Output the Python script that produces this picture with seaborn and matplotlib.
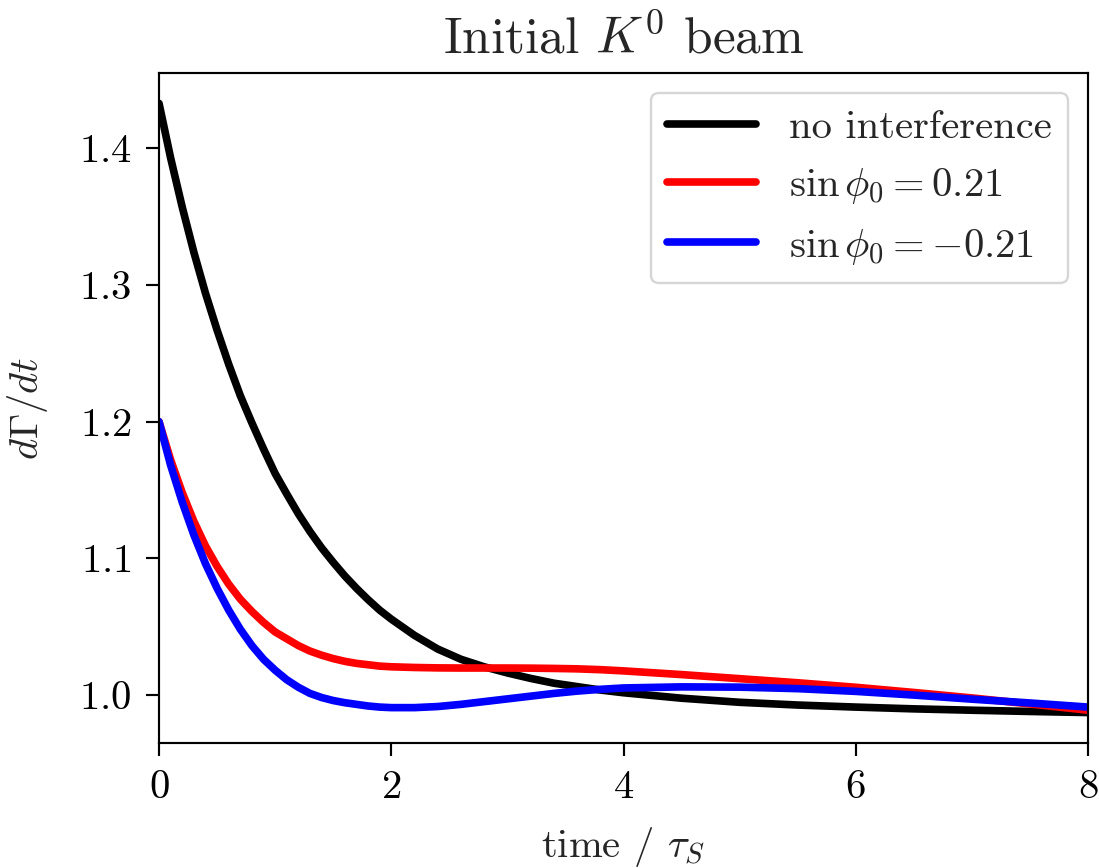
import pandas as pd
import matplotlib
matplotlib.use("Agg")
import matplotlib.pyplot as plt
import seaborn as sns

# time in units of tau_S
t = [0.0, 0.1, 0.2, 0.3, 0.4, 0.5, 0.6, 0.7, 0.8, 0.9, 1.0,
     1.1, 1.2, 1.3, 1.4, 1.5, 1.6, 1.7, 1.8, 1.9, 2.0,
     2.2, 2.4, 2.6, 2.8, 3.0, 3.2, 3.4, 3.6, 3.8, 4.0,
     4.5, 5.0, 5.5, 6.0, 6.5, 7.0, 7.5, 8.0]

# dGamma/dt
no_interf = [1.433, 1.393, 1.357, 1.324, 1.294, 1.267, 1.242, 1.219, 1.199, 1.180, 1.162,
             1.147, 1.1325, 1.1195, 1.1076, 1.097, 1.087, 1.078, 1.0697, 1.062, 1.0554,
             1.0435, 1.0335, 1.026, 1.0205, 1.016, 1.012, 1.0085, 1.006, 1.0035, 1.0015,
             0.9975, 0.9945, 0.9925, 0.991, 0.9897, 0.9887, 0.9878, 0.987]
sin_pos = [1.200, 1.172, 1.148, 1.127, 1.109, 1.094, 1.081, 1.070, 1.061, 1.053, 1.046,
           1.041, 1.036, 1.032, 1.029, 1.0265, 1.0245, 1.023, 1.022, 1.021, 1.0205,
           1.020, 1.0197, 1.0196, 1.0196, 1.0196, 1.0195, 1.0193, 1.019, 1.0184, 1.0175,
           1.0148, 1.0118, 1.0088, 1.0055, 1.0017, 0.9977, 0.9933, 0.9887]
sin_neg = [1.200, 1.168, 1.141, 1.117, 1.096, 1.078, 1.062, 1.048, 1.036, 1.026, 1.018,
           1.011, 1.0055, 1.001, 0.998, 0.9958, 0.9942, 0.993, 0.9918, 0.991, 0.9906,
           0.9906, 0.9914, 0.993, 0.995, 0.997, 0.999, 1.001, 1.0027, 1.004, 1.005,
           1.0058, 1.0056, 1.0045, 1.0025, 0.9998, 0.9968, 0.994, 0.991]

labels = ["no interference", r"$\sin\phi_0 = 0.21$", r"$\sin\phi_0 = -0.21$"]
colors = ["black", "red", "blue"]

df = pd.concat([
    pd.DataFrame({"t": t, "rate": no_interf, "case": labels[0]}),
    pd.DataFrame({"t": t, "rate": sin_pos, "case": labels[1]}),
    pd.DataFrame({"t": t, "rate": sin_neg, "case": labels[2]}),
])

sns.set_style("ticks")
plt.rcParams["font.family"] = "serif"
plt.rcParams["font.serif"] = ["cmr10"]
plt.rcParams["mathtext.fontset"] = "cm"
plt.rcParams["axes.formatter.use_mathtext"] = True

fs = 17
fig = plt.figure(figsize=(1099 / 172, 868 / 172), dpi=172)
ax = fig.add_axes([0.1447, 0.144, 0.8453, 0.772])

sns.lineplot(data=df, x="t", y="rate", hue="case", hue_order=labels,
             palette=dict(zip(labels, colors)), linewidth=3.2, ax=ax)

ax.set_xlim(0, 8)
ax.set_xticks([0, 2, 4, 6, 8])
ax.set_yticks([1.0, 1.1, 1.2, 1.3, 1.4])
ax.set_xlabel(r"time / $\tau_S$", fontsize=fs, labelpad=8)
ax.set_ylabel(r"$d\Gamma/dt$", fontsize=fs, labelpad=12)
ax.set_title(r"Initial $K^0$ beam", fontsize=21.5, pad=8)
for s in ax.spines.values():
    s.set_visible(True)
    s.set_linewidth(0.9)
    s.set_color("black")
ax.tick_params(direction="out", length=5.5, width=0.9, pad=6, colors="black",
               labelsize=fs)

leg = ax.legend(loc="upper right", title=None, fontsize=fs, frameon=True,
                handlelength=2.2)
leg.get_frame().set_edgecolor("0.8")

fig.savefig("out.png", dpi=172)
